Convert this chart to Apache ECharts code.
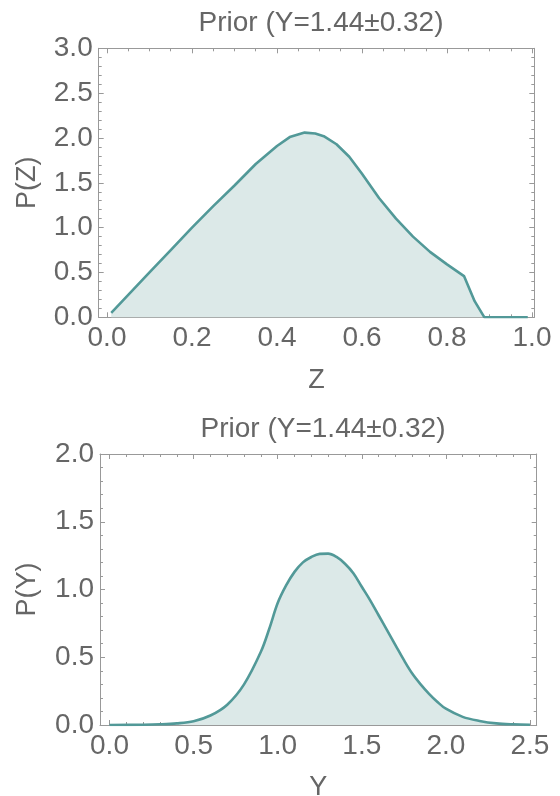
<!DOCTYPE html>
<html>
<head>
<meta charset="utf-8">
<script src="https://cdn.jsdelivr.net/npm/echarts@6/dist/echarts.min.js"></script>
<style>
html, body { margin: 0; padding: 0; background: #fff; }
#chart { width: 560px; height: 796px; }
</style>
</head>
<body>
<div id="chart"></div>
<script>
// top panel: P(Z)
var zValues  = [0.01, 0.05, 0.10, 0.15, 0.20, 0.25, 0.30, 0.35, 0.40, 0.43, 0.465, 0.49, 0.51, 0.54, 0.57, 0.60, 0.64, 0.68, 0.72, 0.76, 0.80, 0.84, 0.865, 0.888, 0.99];
var pzValues = [0.05, 0.25, 0.50, 0.75, 1.00, 1.24, 1.47, 1.71, 1.91, 2.01, 2.06, 2.05, 2.02, 1.93, 1.79, 1.60, 1.33, 1.10, 0.90, 0.73, 0.59, 0.46, 0.18, 0.0, 0.0];

// bottom panel: P(Y)
var yValues  = [0.0, 0.2, 0.3, 0.4, 0.5, 0.6, 0.7, 0.8, 0.9, 0.95, 1.0, 1.05, 1.1, 1.15, 1.2, 1.25, 1.3, 1.35, 1.4, 1.45, 1.5, 1.55, 1.6, 1.65, 1.7, 1.75, 1.8, 1.85, 1.9, 1.95, 2.0, 2.1, 2.2, 2.3, 2.4, 2.5];
var pyValues = [0.0, 0.002, 0.005, 0.012, 0.028, 0.07, 0.15, 0.30, 0.54, 0.71, 0.90, 1.03, 1.13, 1.20, 1.24, 1.263, 1.265, 1.24, 1.19, 1.12, 1.02, 0.92, 0.81, 0.70, 0.59, 0.48, 0.38, 0.30, 0.23, 0.17, 0.12, 0.06, 0.03, 0.012, 0.005, 0.002];

var zTicks  = [0, 0.2, 0.4, 0.6, 0.8, 1.0];
var pzTicks = [0, 0.5, 1.0, 1.5, 2.0, 2.5, 3.0];
var yTicks  = [0, 0.5, 1.0, 1.5, 2.0, 2.5];
var pyTicks = [0, 0.5, 1.0, 1.5, 2.0];

var titleText = 'Prior (Y=1.44\u00b10.32)';

var font = 'Liberation Sans, Arial, sans-serif';
var textColor = '#666666';
var frameColor = '#999999';
var lineColor = '#529998';
var fillColor = '#dce9e8';

function minors(major, n) {
    var out = [];
    for (var i = 0; i < major.length - 1; i++) {
        var step = (major[i + 1] - major[i]) / (n + 1);
        for (var k = 1; k <= n; k++) out.push(+(major[i] + k * step).toFixed(4));
    }
    return out;
}

// one side of the frame: major ticks (+ labels if wanted) and minor ticks
function side(kind, grid, pos, min, max, major, nMinor, labels, name, nameGap) {
    var common = { gridIndex: grid, type: 'value', position: pos, min: min, max: max, splitLine: { show: false } };
    var a = Object.assign({}, common, {
        axisLine: { show: true, onZero: false, lineStyle: { color: frameColor, width: 1 } },
        axisTick: { show: true, inside: true, length: 5, customValues: major, lineStyle: { color: frameColor } },
        axisLabel: {
            show: labels, customValues: major, margin: kind === 'x' ? 7 : 6,
            color: textColor, fontSize: 28, fontFamily: font,
            formatter: function (v) { return v.toFixed(1); }
        }
    });
    if (name) {
        a.name = name;
        a.nameLocation = 'middle';
        a.nameGap = nameGap;
        a.nameTextStyle = { color: textColor, fontSize: 27, fontFamily: font };
    }
    var b = Object.assign({}, common, {
        axisLine: { show: false, onZero: false },
        axisTick: { show: true, inside: true, length: 3, customValues: minors(major, nMinor), lineStyle: { color: frameColor } },
        axisLabel: { show: false }
    });
    return [a, b];
}

var xAxes = [].concat(
    side('x', 0, 'bottom', -0.0195, 1.0054, zTicks, 3, true, 'Z', 50),
    side('x', 0, 'top', -0.0195, 1.0054, zTicks, 3, false),
    side('x', 1, 'bottom', -0.0565, 2.54, yTicks, 4, true, 'Y', 49),
    side('x', 1, 'top', -0.0565, 2.54, yTicks, 4, false)
);
var yAxes = [].concat(
    side('y', 0, 'left', 0, 3, pzTicks, 4, true, 'P(Z)', 58),
    side('y', 0, 'right', 0, 3, pzTicks, 4, false),
    side('y', 1, 'left', 0, 2, pyTicks, 4, true, 'P(Y)', 59),
    side('y', 1, 'right', 0, 2, pyTicks, 4, false)
);

function zip(xs, ys) {
    return xs.map(function (x, i) { return [x, ys[i]]; });
}

var chart = echarts.init(document.getElementById('chart'), null, { renderer: 'canvas' });
chart.setOption({
    backgroundColor: '#ffffff',
    animation: false,
    title: [
        { text: titleText, left: 316, top: 4, textAlign: 'center',
          textStyle: { color: textColor, fontSize: 28, fontWeight: 'normal', fontFamily: font } },
        { text: titleText, left: 318, top: 410, textAlign: 'center',
          textStyle: { color: textColor, fontSize: 28, fontWeight: 'normal', fontFamily: font } }
    ],
    grid: [
        { left: 98.7, right: 25.7, top: 48.3, height: 269, outerBoundsMode: 'none' },
        { left: 100, right: 23.3, top: 454, height: 271, outerBoundsMode: 'none' }
    ],
    xAxis: xAxes,
    yAxis: yAxes,
    series: [
        {
            type: 'line', xAxisIndex: 0, yAxisIndex: 0,
            data: zip(zValues, pzValues),
            showSymbol: false, smooth: false,
            lineStyle: { color: lineColor, width: 2.6 },
            areaStyle: { color: fillColor, opacity: 1, origin: 'start' }
        },
        {
            type: 'line', xAxisIndex: 4, yAxisIndex: 4,
            data: zip(yValues, pyValues),
            showSymbol: false, smooth: 0.35,
            lineStyle: { color: lineColor, width: 2.6 },
            areaStyle: { color: fillColor, opacity: 1, origin: 'start' }
        }
    ]
});
</script>
</body>
</html>
